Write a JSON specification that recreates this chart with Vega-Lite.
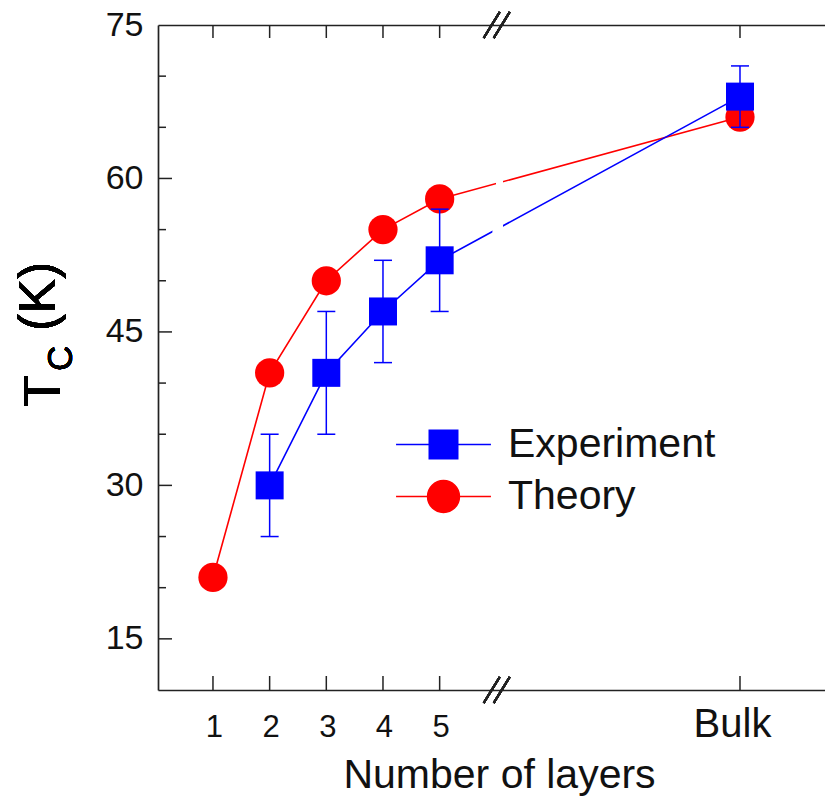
{
  "$schema": "https://vega.github.io/schema/vega-lite/v6.json",
  "width": 667,
  "height": 665,
  "autosize": "none",
  "padding": {"left": 158, "top": 25, "right": 0, "bottom": 113},
  "config": {
    "view": {"stroke": null},
    "font": "Liberation Sans",
    "axis": {
      "grid": false,
      "domainColor": "#222",
      "domainWidth": 1.7,
      "labelColor": "#111",
      "labelFont": "Liberation Sans",
      "titleFont": "Liberation Sans",
      "titleColor": "#111",
      "labelFlush": false,
      "labelOverlap": false
    }
  },
  "datasets": {
    "tc": [
      {"series": "Theory", "layers": "1", "n": 1, "tc": 21},
      {"series": "Theory", "layers": "2", "n": 2, "tc": 41},
      {"series": "Theory", "layers": "3", "n": 3, "tc": 50},
      {"series": "Theory", "layers": "4", "n": 4, "tc": 55},
      {"series": "Theory", "layers": "5", "n": 5, "tc": 58},
      {"series": "Theory", "layers": "Bulk", "n": 10.3, "tc": 66},
      {"series": "Experiment", "layers": "2", "n": 2, "tc": 30, "lo": 25, "hi": 35},
      {"series": "Experiment", "layers": "3", "n": 3, "tc": 41, "lo": 35, "hi": 47},
      {"series": "Experiment", "layers": "4", "n": 4, "tc": 47, "lo": 42, "hi": 52},
      {"series": "Experiment", "layers": "5", "n": 5, "tc": 52, "lo": 47, "hi": 57},
      {"series": "Experiment", "layers": "Bulk", "n": 10.3, "tc": 68, "lo": 65, "hi": 71}
    ],
    "xticks": [{"v": 1}, {"v": 2}, {"v": 3}, {"v": 4}, {"v": 5}, {"v": 10.3}],
    "yticks": [
      {"v": 15, "major": true}, {"v": 20, "major": false}, {"v": 25, "major": false},
      {"v": 30, "major": true}, {"v": 35, "major": false}, {"v": 40, "major": false},
      {"v": 45, "major": true}, {"v": 50, "major": false}, {"v": 55, "major": false},
      {"v": 60, "major": true}, {"v": 65, "major": false}, {"v": 70, "major": false}
    ]
  },
  "data": {"name": "tc"},
  "resolve": {"axis": {"x": "independent", "y": "independent"}},
  "layer": [
    {
      "transform": [{"filter": "datum.series === 'Theory'"}],
      "mark": {"type": "line", "color": "#ff0000", "strokeWidth": 1.6},
      "encoding": {
        "x": {
          "field": "n", "type": "quantitative",
          "scale": {"domain": [0.03, 11.8], "nice": false, "zero": false},
          "axis": {
            "orient": "bottom",
            "values": [1, 2, 3, 4, 5, 10.3],
            "labelExpr": "datum.value > 6 ? 'Bulk' : datum.label",
            "ticks": false,
            "labelPadding": 46,
            "labelBaseline": "alphabetic",
            "labelFontSize": {"condition": {"test": "datum.value > 6", "value": 40}, "value": 31},
            "labelOffset": {"condition": {"test": "datum.value > 6", "value": -8}, "value": 1},
            "title": "Number of layers",
            "titleFontSize": 41,
            "titleFontWeight": "normal",
            "titleBaseline": "alphabetic",
            "titleAlign": "center",
            "titleX": 341,
            "titleY": 97
          }
        },
        "y": {
          "field": "tc", "type": "quantitative",
          "scale": {"domain": [10, 75], "nice": false, "zero": false},
          "axis": {
            "orient": "left",
            "values": [15, 30, 45, 60, 75],
            "ticks": false,
            "labelPadding": 15,
            "labelFontSize": 34,
            "title": null
          }
        }
      }
    },
    {
      "transform": [{"filter": "datum.series === 'Theory'"}],
      "mark": {"type": "circle", "color": "#ff0000", "size": 855, "opacity": 1},
      "encoding": {
        "x": {
          "field": "n", "type": "quantitative",
          "axis": {"orient": "bottom", "offset": -665, "ticks": false, "labels": false, "title": null}
        },
        "y": {"field": "tc", "type": "quantitative", "axis": null}
      }
    },
    {
      "transform": [{"filter": "datum.series === 'Experiment'"}],
      "mark": {"type": "line", "color": "#0000ff", "strokeWidth": 1.6},
      "encoding": {
        "x": {"field": "n", "type": "quantitative", "axis": null},
        "y": {"field": "tc", "type": "quantitative", "axis": null}
      }
    },
    {
      "mark": {"type": "rect", "color": "white", "opacity": 1},
      "encoding": {
        "x": {"datum": 5.94, "type": "quantitative", "axis": null},
        "x2": {"datum": 6.11},
        "y": {"datum": 53.5, "type": "quantitative", "axis": null},
        "y2": {"datum": 56.5}
      }
    },
    {
      "mark": {"type": "rect", "color": "white", "opacity": 1},
      "encoding": {
        "x": {"datum": 6.0, "type": "quantitative", "axis": null},
        "x2": {"datum": 6.11},
        "y": {"datum": 58.4, "type": "quantitative", "axis": null},
        "y2": {"datum": 61}
      }
    },
    {
      "transform": [{"filter": "datum.series === 'Experiment'"}],
      "mark": {"type": "rule", "color": "#0000ff", "strokeWidth": 1.5},
      "encoding": {
        "x": {"field": "n", "type": "quantitative", "axis": null},
        "y": {"field": "lo", "type": "quantitative", "axis": null},
        "y2": {"field": "hi"}
      }
    },
    {
      "transform": [{"filter": "datum.series === 'Experiment'"}],
      "mark": {"type": "tick", "orient": "horizontal", "color": "#0000ff", "size": 18, "thickness": 1.5, "opacity": 1},
      "encoding": {
        "x": {"field": "n", "type": "quantitative", "axis": null},
        "y": {"field": "lo", "type": "quantitative", "axis": null}
      }
    },
    {
      "transform": [{"filter": "datum.series === 'Experiment'"}],
      "mark": {"type": "tick", "orient": "horizontal", "color": "#0000ff", "size": 18, "thickness": 1.5, "opacity": 1},
      "encoding": {
        "x": {"field": "n", "type": "quantitative", "axis": null},
        "y": {"field": "hi", "type": "quantitative", "axis": null}
      }
    },
    {
      "transform": [{"filter": "datum.series === 'Experiment'"}],
      "mark": {"type": "square", "color": "#0000ff", "size": 784, "opacity": 1},
      "encoding": {
        "x": {"field": "n", "type": "quantitative", "axis": null},
        "y": {"field": "tc", "type": "quantitative", "axis": null}
      }
    },
    {
      "data": {"name": "xticks"},
      "mark": {"type": "rule", "color": "#222", "strokeWidth": 1.5},
      "encoding": {
        "x": {"field": "v", "type": "quantitative", "axis": null},
        "y": {"datum": 10, "type": "quantitative", "axis": null},
        "y2": {"datum": 11.37}
      }
    },
    {
      "data": {"name": "xticks"},
      "mark": {"type": "rule", "color": "#222", "strokeWidth": 1.5},
      "encoding": {
        "x": {"field": "v", "type": "quantitative", "axis": null},
        "y": {"datum": 75, "type": "quantitative", "axis": null},
        "y2": {"datum": 73.73}
      }
    },
    {
      "data": {"name": "yticks"},
      "transform": [{"filter": "datum.major"}],
      "mark": {"type": "rule", "color": "#222", "strokeWidth": 1.5},
      "encoding": {
        "y": {"field": "v", "type": "quantitative", "axis": null},
        "x": {"datum": 0.03, "type": "quantitative", "axis": null},
        "x2": {"datum": 0.277}
      }
    },
    {
      "data": {"name": "yticks"},
      "transform": [{"filter": "!datum.major"}],
      "mark": {"type": "rule", "color": "#222", "strokeWidth": 1.5},
      "encoding": {
        "y": {"field": "v", "type": "quantitative", "axis": null},
        "x": {"datum": 0.03, "type": "quantitative", "axis": null},
        "x2": {"datum": 0.171}
      }
    },
    {
      "transform": [{"filter": "false"}],
      "mark": {"type": "point", "filled": true, "size": 812, "opacity": 1, "strokeWidth": 1.5},
      "encoding": {
        "shape": {
          "field": "series", "type": "nominal",
          "scale": {
            "domain": ["Experiment", "Theory"],
            "range": ["M-3.33,0H3.33M-1,-1H1V1H-1Z", "M-3.33,0H3.33M1.12,0A1.12,1.12,0,1,1,-1.12,0A1.12,1.12,0,1,1,1.12,0Z"]
          },
          "legend": {
            "orient": "none", "legendX": 265, "legendY": 399, "title": null, "padding": 0,
            "labelFontSize": 41, "labelFont": "Liberation Sans", "labelColor": "#111", "labelOffset": 44,
            "labelLimit": 0, "rowPadding": 10, "symbolSize": 812, "symbolStrokeWidth": 1.5, "symbolOpacity": 1
          }
        },
        "fill": {
          "field": "series", "type": "nominal",
          "scale": {"domain": ["Experiment", "Theory"], "range": ["#0000ff", "#ff0000"]},
          "legend": {
            "orient": "none", "legendX": 265, "legendY": 399, "title": null, "padding": 0,
            "labelFontSize": 41, "labelFont": "Liberation Sans", "labelColor": "#111", "labelOffset": 44,
            "labelLimit": 0, "rowPadding": 10, "symbolSize": 812, "symbolStrokeWidth": 1.5, "symbolOpacity": 1
          }
        },
        "stroke": {
          "field": "series", "type": "nominal",
          "scale": {"domain": ["Experiment", "Theory"], "range": ["#0000ff", "#ff0000"]},
          "legend": {
            "orient": "none", "legendX": 265, "legendY": 399, "title": null, "padding": 0,
            "labelFontSize": 41, "labelFont": "Liberation Sans", "labelColor": "#111", "labelOffset": 44,
            "labelLimit": 0, "rowPadding": 10, "symbolSize": 812, "symbolStrokeWidth": 1.5, "symbolOpacity": 1
          }
        }
      }
    },
    {
      "mark": {"type": "rule", "color": "#222", "strokeWidth": 2},
      "encoding": {
        "x": {"datum": 5.777, "type": "quantitative", "axis": null},
        "x2": {"datum": 6.06},
        "y": {"datum": 8.73, "type": "quantitative", "axis": null},
        "y2": {"datum": 11.27}
      }
    },
    {
      "mark": {"type": "rule", "color": "#222", "strokeWidth": 2},
      "encoding": {
        "x": {"datum": 5.954, "type": "quantitative", "axis": null},
        "x2": {"datum": 6.236},
        "y": {"datum": 8.73, "type": "quantitative", "axis": null},
        "y2": {"datum": 11.27}
      }
    },
    {
      "mark": {"type": "rule", "color": "#222", "strokeWidth": 2},
      "encoding": {
        "x": {"datum": 5.777, "type": "quantitative", "axis": null},
        "x2": {"datum": 6.06},
        "y": {"datum": 73.73, "type": "quantitative", "axis": null},
        "y2": {"datum": 76.27}
      }
    },
    {
      "mark": {"type": "rule", "color": "#222", "strokeWidth": 2},
      "encoding": {
        "x": {"datum": 5.954, "type": "quantitative", "axis": null},
        "x2": {"datum": 6.236},
        "y": {"datum": 73.73, "type": "quantitative", "axis": null},
        "y2": {"datum": 76.27}
      }
    },
    {
      "mark": {"type": "text", "text": "T", "angle": 270, "align": "left", "baseline": "alphabetic", "font": "Liberation Sans", "fontSize": 52, "color": "#000"},
      "encoding": {
        "x": {"datum": -1.705, "type": "quantitative", "axis": null},
        "y": {"datum": 37.66, "type": "quantitative", "axis": null}
      }
    },
    {
      "mark": {"type": "text", "text": "C", "angle": 270, "align": "left", "baseline": "alphabetic", "font": "Liberation Sans", "fontSize": 35, "color": "#000"},
      "encoding": {
        "x": {"datum": -1.49, "type": "quantitative", "axis": null},
        "y": {"datum": 41.18, "type": "quantitative", "axis": null}
      }
    },
    {
      "mark": {"type": "text", "text": "(K)", "angle": 270, "align": "left", "baseline": "alphabetic", "font": "Liberation Sans", "fontSize": 52, "color": "#000"},
      "encoding": {
        "x": {"datum": -1.78, "type": "quantitative", "axis": null},
        "y": {"datum": 45.1, "type": "quantitative", "axis": null}
      }
    }
  ]
}
